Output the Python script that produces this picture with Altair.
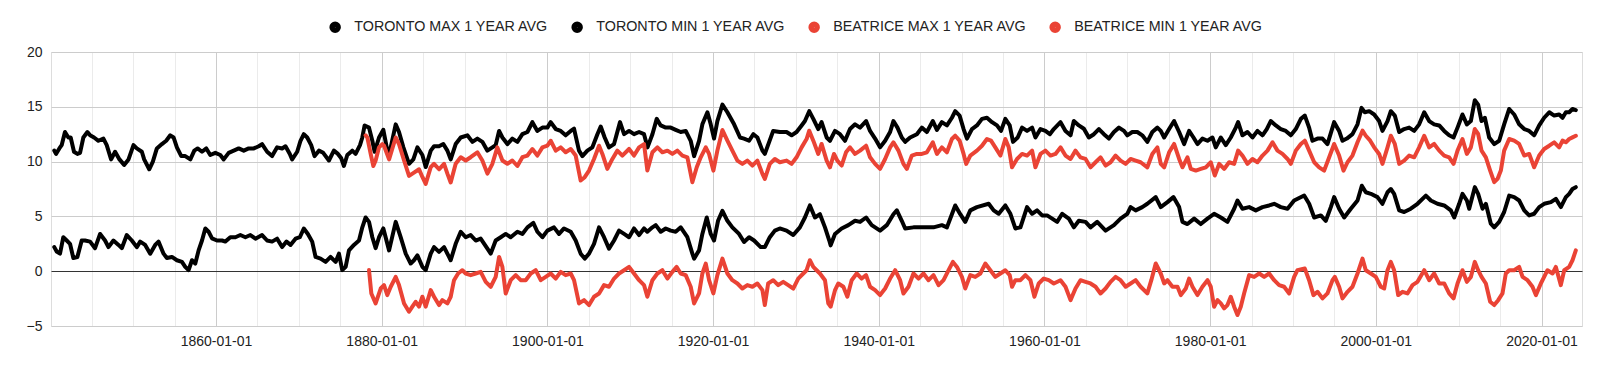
import altair as alt
import pandas as pd

SERIES = ["TORONTO MAX 1 YEAR AVG", "TORONTO MIN 1 YEAR AVG",
          "BEATRICE MAX 1 YEAR AVG", "BEATRICE MIN 1 YEAR AVG"]
COLORS = ["#000000", "#000000", "#ea4335", "#ea4335"]

# ---- Toronto max (decimal year, degC) ----
tmx_year = [1840.48, 1840.69, 1841.09, 1841.37, 1841.77, 1842.18, 1842.46, 1842.86, 1843.27, 1843.59,
            1843.99, 1844.48, 1844.8, 1845.28, 1845.81, 1846.41, 1846.81, 1847.34, 1847.82, 1848.35,
            1848.91, 1849.44, 1850.04, 1850.44, 1851.05, 1851.33, 1851.94, 1852.38, 1852.86, 1853.47,
            1853.99, 1854.48, 1854.88, 1855.28, 1855.81, 1856.29, 1856.9, 1857.38, 1857.78, 1858.31,
            1858.83, 1859.31, 1859.92, 1860.52, 1860.93, 1861.53, 1862.14, 1862.74, 1863.35, 1863.95,
            1864.56, 1865.16, 1865.56, 1866.17, 1866.77, 1867.38, 1867.98, 1868.39, 1868.91, 1869.19,
            1869.8, 1870.2, 1870.6, 1871.01, 1871.49, 1871.9, 1872.42, 1872.94, 1873.63, 1874.23,
            1874.72, 1875.12, 1875.44, 1875.85, 1876.45, 1876.85, 1877.38, 1877.66, 1877.94, 1878.47,
            1878.87, 1879.15, 1879.68, 1880.2, 1880.76, 1881.09, 1881.69, 1882.09, 1882.62, 1883.3,
            1883.82, 1884.31, 1884.91, 1885.31, 1885.92, 1886.32, 1886.92, 1887.44, 1887.93, 1888.33,
            1888.93, 1889.54, 1890.34, 1890.95, 1891.55, 1892.15, 1892.76, 1893.36, 1893.76, 1894.17,
            1894.57, 1895.17, 1895.77, 1896.38, 1896.98, 1897.59, 1898.19, 1898.79, 1899.4, 1900.0,
            1900.4, 1901.01, 1901.61, 1902.21, 1902.82, 1903.22, 1903.82, 1904.23, 1904.83, 1905.43,
            1906.04, 1906.44, 1906.92, 1907.44, 1908.05, 1908.77, 1909.26, 1909.86, 1910.46, 1911.07,
            1911.67, 1912.09, 1912.68, 1913.2, 1913.68, 1914.29, 1914.89, 1915.49, 1916.1, 1916.7,
            1917.3, 1917.71, 1918.31, 1918.71, 1919.32, 1919.72, 1920.12, 1920.52, 1921.13, 1921.73,
            1922.54, 1923.26, 1923.74, 1924.35, 1924.87, 1925.35, 1925.96, 1926.25, 1927.26, 1928.06,
            1928.87, 1929.48, 1930.08, 1930.69, 1931.09, 1931.61, 1932.1, 1932.7, 1933.1, 1933.71,
            1934.11, 1934.72, 1935.32, 1935.93, 1936.53, 1937.14, 1937.74, 1938.47, 1938.95, 1939.56,
            1940.16, 1940.77, 1941.37, 1941.77, 1942.26, 1942.78, 1943.19, 1943.79, 1944.6, 1945.2,
            1945.81, 1946.53, 1947.02, 1947.62, 1948.23, 1948.83, 1949.23, 1949.76, 1950.24, 1950.65,
            1951.25, 1951.85, 1952.46, 1953.06, 1953.67, 1954.27, 1954.76, 1955.28, 1955.81, 1956.21,
            1956.77, 1957.3, 1957.9, 1958.51, 1958.91, 1959.52, 1960.12, 1960.65, 1961.13, 1961.94,
            1962.54, 1963.15, 1963.55, 1964.15, 1964.76, 1965.36, 1965.97, 1966.57, 1967.18, 1967.78,
            1968.39, 1968.99, 1969.6, 1970.0, 1970.6, 1971.21, 1971.81, 1972.42, 1973.02, 1973.63,
            1974.04, 1974.45, 1975.05, 1975.65, 1976.26, 1976.86, 1977.46, 1977.99, 1978.47, 1979.07,
            1979.68, 1980.28, 1980.68, 1981.29, 1981.89, 1982.49, 1983.1, 1983.38, 1983.9, 1984.51,
            1985.11, 1985.71, 1986.32, 1986.84, 1987.32, 1987.93, 1988.53, 1989.13, 1989.74, 1990.34,
            1990.95, 1991.43, 1991.95, 1992.35, 1992.96, 1993.56, 1994.16, 1994.65, 1994.97, 1995.57,
            1995.98, 1996.5, 1997.18, 1997.79, 1998.27, 1998.67, 1999.2, 1999.8, 2000.4, 2000.8,
            2001.41, 2001.81, 2002.29, 2002.82, 2003.42, 2004.02, 2004.63, 2005.23, 2005.84, 2006.44,
            2007.04, 2007.65, 2008.25, 2008.85, 2009.38, 2009.86, 2010.46, 2010.99, 2011.47, 2011.95,
            2012.35, 2012.76, 2013.16, 2013.68, 2014.29, 2014.89, 2015.49, 2016.1, 2016.7, 2017.3,
            2017.91, 2018.51, 2019.11, 2019.72, 2020.32, 2020.93, 2021.53, 2022.13, 2022.54, 2022.94,
            2023.34, 2023.74, 2024.14]
tmx_val = [11.0, 10.7, 11.2, 11.5, 12.7, 12.2, 12.2, 10.9, 10.7, 10.8,
           12.2, 12.7, 12.4, 12.2, 11.9, 12.1, 11.5, 10.2, 10.9, 10.2,
           9.7, 10.2, 11.5, 11.2, 10.9, 10.2, 9.3, 10.0, 11.2, 11.6,
           11.9, 12.4, 12.2, 11.3, 10.5, 10.5, 10.2, 11.0, 11.2, 10.9,
           11.2, 10.6, 10.8, 10.6, 10.2, 10.8, 11.0, 11.2, 11.0, 11.2,
           11.2, 11.4, 11.6, 10.9, 10.5, 11.3, 11.2, 11.4, 10.7, 10.2,
           10.9, 11.9, 12.5, 12.2, 11.5, 10.5, 11.0, 10.8, 10.1, 11.0,
           10.7, 10.3, 9.6, 10.6, 11.0, 10.7, 11.5, 12.2, 13.3, 13.1,
           11.9, 10.9, 12.2, 12.9, 10.7, 11.3, 13.4, 12.7, 11.3, 9.8,
           10.2, 11.3, 10.6, 9.5, 11.0, 11.4, 11.4, 11.6, 11.0, 10.2,
           11.6, 12.2, 12.4, 11.8, 12.1, 11.8, 11.0, 11.3, 11.5, 12.8,
           12.2, 11.6, 12.1, 11.8, 12.5, 12.7, 13.6, 12.8, 13.1, 13.1,
           13.6, 12.97, 12.8, 12.4, 12.8, 13.0, 11.0, 10.5, 11.0, 11.3,
           12.5, 13.2, 12.2, 11.3, 11.6, 13.6, 12.5, 12.8, 12.5, 12.7,
           12.5, 11.3, 12.5, 13.9, 13.3, 13.1, 13.1, 12.9, 12.7, 12.8,
           11.9, 10.5, 11.9, 13.4, 14.5, 13.4, 12.1, 13.7, 15.2, 14.5,
           13.4, 12.2, 12.1, 11.9, 12.5, 12.2, 11.0, 10.7, 12.8, 12.7,
           12.7, 12.4, 12.7, 13.3, 13.7, 14.6, 13.9, 12.97, 13.6, 12.2,
           11.9, 12.8, 12.5, 11.9, 12.97, 13.4, 13.1, 13.7, 12.8, 12.1,
           11.3, 11.9, 12.7, 13.7, 13.1, 12.2, 11.8, 12.2, 12.5, 13.1,
           12.7, 13.7, 12.9, 13.6, 13.3, 14.0, 14.6, 14.2, 12.97, 12.1,
           12.97, 13.3, 13.9, 14.0, 13.6, 13.3, 12.8, 13.9, 13.3, 11.8,
           12.2, 13.1, 12.8, 13.1, 12.2, 12.97, 12.8, 12.5, 12.97, 13.6,
           12.8, 12.4, 13.7, 13.3, 13.0, 12.2, 12.5, 12.97, 12.5, 12.1,
           12.7, 13.1, 12.8, 12.4, 12.7, 12.7, 12.4, 11.8, 12.7, 13.1,
           12.8, 12.2, 12.97, 13.7, 12.7, 11.6, 12.8, 12.2, 11.6, 12.1,
           11.9, 12.2, 11.3, 12.2, 11.5, 12.2, 13.1, 13.6, 12.4, 12.7,
           12.2, 12.8, 12.4, 12.97, 13.7, 13.3, 12.97, 12.8, 12.4, 12.97,
           13.9, 14.2, 13.1, 11.9, 12.1, 12.1, 11.6, 12.8, 13.6, 12.8,
           11.9, 12.1, 12.5, 13.4, 14.9, 14.5, 14.6, 14.3, 13.7, 12.8,
           13.7, 14.6, 14.2, 12.7, 12.97, 13.1, 12.8, 13.4, 14.5, 13.7,
           13.4, 13.3, 12.8, 12.4, 12.2, 13.1, 14.3, 13.4, 13.7, 15.6,
           15.2, 13.7, 14.0, 12.2, 11.6, 11.9, 13.4, 14.8, 14.3, 13.4,
           12.97, 12.8, 12.4, 13.3, 14.0, 14.5, 14.2, 14.3, 14.0, 14.5,
           14.5, 14.8, 14.7]

# ---- Toronto min ----
tmn_year = [1840.48, 1840.77, 1841.17, 1841.57, 1841.98, 1842.38, 1842.78, 1843.27, 1843.79, 1844.19,
            1844.8, 1845.4, 1846.01, 1846.61, 1847.02, 1847.62, 1848.23, 1848.63, 1849.23, 1849.84,
            1850.44, 1850.85, 1851.45, 1852.06, 1852.66, 1853.06, 1853.67, 1854.07, 1854.68, 1855.28,
            1855.89, 1856.29, 1856.69, 1857.1, 1857.5, 1857.9, 1858.31, 1858.71, 1859.11, 1859.52,
            1860.12, 1860.73, 1861.13, 1861.73, 1862.34, 1862.94, 1863.55, 1864.15, 1864.76, 1865.56,
            1866.17, 1866.77, 1867.38, 1867.98, 1868.51, 1868.99, 1869.6, 1870.12, 1870.6, 1871.09,
            1871.61, 1872.02, 1872.62, 1873.23, 1873.83, 1874.44, 1874.84, 1875.24, 1875.65, 1876.05,
            1876.65, 1877.26, 1877.66, 1878.06, 1878.47, 1878.87, 1879.27, 1879.68, 1880.2, 1880.89,
            1881.69, 1882.29, 1882.9, 1883.5, 1883.9, 1884.31, 1884.91, 1885.31, 1885.92, 1886.32,
            1886.92, 1887.53, 1888.13, 1888.33, 1888.93, 1889.54, 1890.14, 1890.74, 1891.35, 1891.95,
            1892.76, 1893.16, 1893.76, 1894.37, 1894.97, 1895.57, 1896.38, 1896.98, 1897.59, 1898.31,
            1898.79, 1899.4, 1900.0, 1900.8, 1901.41, 1902.01, 1902.82, 1903.42, 1904.02, 1904.51,
            1905.03, 1905.63, 1906.24, 1906.84, 1907.44, 1908.05, 1908.65, 1909.26, 1909.86, 1910.46,
            1911.07, 1911.67, 1912.07, 1912.68, 1913.08, 1913.68, 1914.29, 1914.89, 1915.49, 1916.1,
            1916.9, 1917.5, 1917.71, 1918.31, 1918.71, 1919.24, 1919.72, 1920.12, 1920.6, 1921.13,
            1921.73, 1922.33, 1923.14, 1923.74, 1924.35, 1924.95, 1925.75, 1926.25, 1926.85, 1927.46,
            1928.06, 1928.87, 1929.68, 1930.48, 1931.09, 1931.69, 1932.3, 1932.9, 1933.51, 1934.03,
            1934.19, 1934.72, 1935.52, 1936.33, 1937.14, 1937.74, 1938.47, 1939.15, 1940.16, 1940.97,
            1941.77, 1942.18, 1942.78, 1943.19, 1944.19, 1945.0, 1945.81, 1946.61, 1947.62, 1948.23,
            1948.83, 1949.23, 1949.84, 1950.44, 1951.05, 1951.85, 1953.27, 1953.87, 1954.48, 1955.28,
            1955.89, 1956.49, 1957.1, 1957.9, 1958.51, 1959.11, 1959.72, 1960.32, 1960.93, 1961.53,
            1962.14, 1962.94, 1963.55, 1964.15, 1964.96, 1965.56, 1966.37, 1967.38, 1968.39, 1969.19,
            1970.0, 1970.4, 1971.01, 1971.81, 1972.42, 1973.43, 1974.04, 1974.85, 1975.57, 1976.26,
            1976.66, 1977.26, 1978.07, 1978.87, 1979.68, 1980.48, 1981.29, 1982.09, 1982.9, 1983.3,
            1983.9, 1984.71, 1985.51, 1986.32, 1987.12, 1987.73, 1988.53, 1989.34, 1990.14, 1991.35,
            1991.95, 1992.56, 1993.36, 1993.96, 1994.57, 1994.97, 1995.57, 1996.18, 1996.98, 1997.79,
            1998.31, 1998.79, 1999.4, 2000.2, 2000.8, 2001.41, 2001.81, 2002.21, 2002.82, 2003.42,
            2004.22, 2005.03, 2006.04, 2006.64, 2007.44, 2008.25, 2009.05, 2009.46, 2010.06, 2010.46,
            2010.99, 2011.27, 2011.95, 2012.35, 2012.88, 2013.28, 2013.88, 2014.29, 2014.89, 2015.49,
            2016.1, 2016.7, 2017.3, 2017.91, 2018.51, 2019.11, 2019.72, 2020.32, 2021.13, 2021.73,
            2022.33, 2022.94, 2023.34, 2023.74, 2024.14]
tmn_val = [2.2, 1.8, 1.6, 3.1, 2.8, 2.5, 1.2, 1.3, 2.8, 2.8,
           2.7, 2.1, 3.4, 2.8, 2.2, 2.8, 2.4, 2.1, 3.3, 2.8,
           2.2, 2.7, 2.4, 1.6, 2.4, 2.7, 1.6, 1.2, 1.3, 1.0,
           0.85, 0.4, 0.1, 1.0, 0.7, 1.9, 2.8, 3.9, 3.6, 3.0,
           2.8, 2.8, 2.7, 3.1, 3.1, 3.3, 3.1, 3.3, 2.97, 3.3,
           2.8, 2.7, 2.97, 2.2, 2.7, 2.4, 2.97, 3.1, 3.9, 3.4,
           2.7, 1.3, 1.15, 0.85, 1.3, 0.85, 1.6, 0.1, 0.4, 1.9,
           2.4, 2.8, 4.0, 4.9, 4.5, 3.1, 2.1, 3.1, 3.9, 1.9,
           4.5, 3.1, 1.6, 0.7, 1.0, 1.45, 0.4, 0.1, 1.6, 2.2,
           1.76, 2.2, 1.3, 1.0, 2.5, 3.6, 3.1, 3.3, 2.8, 2.97,
           2.06, 1.6, 2.8, 3.1, 3.4, 3.1, 3.6, 3.4, 4.0, 4.4,
           3.6, 3.1, 3.7, 4.0, 3.4, 3.9, 3.6, 2.8, 1.6, 1.15,
           1.6, 2.5, 4.0, 3.1, 2.06, 2.8, 3.7, 3.4, 3.1, 3.9,
           3.3, 3.9, 3.6, 4.0, 4.2, 3.6, 3.9, 3.7, 3.6, 4.0,
           3.1, 1.6, 1.15, 1.9, 3.4, 4.9, 3.4, 2.8, 4.6, 5.5,
           4.6, 4.0, 3.4, 2.67, 3.1, 2.8, 2.2, 2.2, 3.1, 3.7,
           3.9, 3.7, 3.3, 4.0, 4.9, 6.0, 4.9, 5.2, 4.0, 2.8,
           2.36, 3.4, 3.9, 4.2, 4.6, 4.5, 4.9, 4.2, 3.7, 4.2,
           5.2, 5.55, 4.6, 3.9, 4.0, 4.0, 4.0, 4.0, 4.2, 4.0,
           5.2, 6.0, 5.2, 4.5, 5.55, 5.85, 6.15, 5.55, 5.24, 6.0,
           5.24, 3.9, 4.0, 5.85, 5.24, 5.55, 5.09, 5.09, 4.8, 4.5,
           5.24, 4.8, 4.0, 4.6, 4.5, 4.0, 4.5, 3.7, 4.2, 4.8,
           5.24, 5.85, 5.55, 5.85, 6.15, 6.76, 5.85, 6.3, 6.76, 5.85,
           4.5, 4.3, 4.8, 4.3, 4.8, 5.24, 4.9, 4.5, 5.7, 6.45,
           5.7, 5.85, 5.55, 5.85, 6.0, 6.15, 5.85, 5.7, 6.45, 6.9,
           6.15, 4.9, 5.09, 4.6, 5.85, 6.76, 5.7, 4.9, 5.7, 6.45,
           7.8, 7.2, 7.06, 6.76, 6.15, 7.2, 7.5, 7.06, 5.55, 5.4,
           5.7, 6.15, 6.9, 6.45, 6.15, 6.0, 5.55, 4.9, 6.15, 7.06,
           6.45, 5.7, 7.67, 7.06, 5.7, 6.15, 4.33, 4.0, 4.5, 5.4,
           6.9, 6.76, 6.45, 5.55, 5.09, 5.24, 5.85, 6.15, 6.3, 6.6,
           5.85, 6.76, 7.06, 7.5, 7.67]

# ---- Beatrice max ----
bmx_year = [1878.06, 1878.27, 1878.67, 1878.99, 1879.27, 1879.68, 1880.08, 1880.28, 1880.89, 1881.69,
            1882.09, 1882.7, 1883.3, 1883.9, 1884.51, 1884.91, 1885.31, 1885.92, 1886.32, 1886.92,
            1887.53, 1887.93, 1888.33, 1888.93, 1889.54, 1890.14, 1890.74, 1891.55, 1892.15, 1892.76,
            1893.36, 1893.96, 1894.57, 1895.17, 1895.77, 1896.38, 1896.98, 1897.59, 1898.19, 1898.79,
            1899.4, 1900.0, 1900.4, 1901.01, 1901.61, 1902.21, 1902.82, 1903.42, 1904.02, 1904.51,
            1905.03, 1905.63, 1906.24, 1906.64, 1907.24, 1907.85, 1908.45, 1909.05, 1909.86, 1910.46,
            1911.07, 1911.67, 1912.07, 1912.68, 1913.28, 1913.88, 1914.49, 1915.09, 1915.69, 1916.3,
            1916.9, 1917.5, 1918.03, 1918.51, 1919.12, 1919.52, 1920.04, 1920.52, 1921.13, 1921.73,
            1922.33, 1922.94, 1923.54, 1924.14, 1924.75, 1925.35, 1925.96, 1926.25, 1926.85, 1927.46,
            1928.06, 1928.87, 1929.48, 1930.08, 1930.69, 1931.29, 1931.61, 1932.1, 1932.7, 1933.1,
            1933.71, 1934.11, 1934.6, 1935.0, 1935.52, 1936.05, 1936.53, 1937.14, 1937.74, 1938.47,
            1938.95, 1939.56, 1940.16, 1940.77, 1941.37, 1941.77, 1942.38, 1942.98, 1943.39, 1943.99,
            1944.6, 1945.2, 1945.81, 1946.53, 1947.02, 1947.62, 1948.23, 1948.83, 1949.23, 1949.76,
            1950.24, 1950.56, 1951.05, 1951.85, 1952.46, 1953.06, 1953.55, 1954.07, 1954.68, 1955.28,
            1955.69, 1956.09, 1956.69, 1957.3, 1957.9, 1958.51, 1958.91, 1959.52, 1960.12, 1960.73,
            1961.33, 1961.94, 1962.54, 1963.15, 1963.75, 1964.35, 1964.96, 1965.56, 1966.17, 1966.77,
            1967.38, 1967.98, 1968.59, 1969.19, 1969.8, 1970.4, 1971.01, 1971.61, 1972.42, 1973.02,
            1973.63, 1974.04, 1974.45, 1975.05, 1975.65, 1976.26, 1976.66, 1977.26, 1977.67, 1978.27,
            1978.87, 1979.48, 1980.08, 1980.56, 1981.09, 1981.69, 1982.29, 1982.9, 1983.38, 1983.9,
            1984.51, 1985.11, 1985.71, 1986.32, 1986.92, 1987.53, 1988.13, 1988.73, 1989.34, 1989.74,
            1990.34, 1990.95, 1991.43, 1991.95, 1992.56, 1993.16, 1993.76, 1994.37, 1994.97, 1995.57,
            1996.1, 1996.58, 1997.18, 1997.79, 1998.39, 1998.79, 1999.32, 1999.8, 2000.4, 2000.8,
            2001.41, 2001.81, 2002.29, 2002.82, 2003.42, 2004.02, 2004.63, 2005.23, 2005.84, 2006.44,
            2007.04, 2007.65, 2008.25, 2008.85, 2009.38, 2009.86, 2010.46, 2010.99, 2011.47, 2011.95,
            2012.35, 2012.76, 2013.28, 2013.8, 2014.29, 2014.69, 2015.09, 2015.49, 2016.1, 2016.7,
            2017.3, 2017.91, 2018.51, 2019.11, 2019.72, 2020.32, 2020.93, 2021.53, 2022.13, 2022.54,
            2022.94, 2023.34, 2023.74, 2024.14]
bmx_val = [12.4, 12.2, 10.7, 9.6, 10.1, 11.3, 11.6, 11.45, 10.2, 12.2,
           11.6, 10.1, 8.7, 9.0, 9.3, 8.6, 7.97, 9.5, 9.8, 9.3,
           9.8, 8.9, 8.1, 9.8, 10.4, 10.1, 10.4, 10.85, 10.1, 8.9,
           9.8, 11.3, 10.1, 9.8, 10.1, 9.6, 10.4, 10.55, 11.15, 10.55,
           11.3, 11.45, 11.9, 11.0, 11.3, 10.85, 11.15, 10.55, 8.27, 8.58,
           9.18, 10.24, 11.45, 10.7, 9.33, 10.24, 11.0, 10.55, 11.15, 10.55,
           11.3, 11.6, 9.18, 10.85, 11.3, 10.85, 11.0, 10.7, 11.0, 10.55,
           10.39, 8.12, 9.48, 10.39, 11.3, 10.7, 9.18, 11.0, 12.88, 11.91,
           11.0, 10.09, 9.79, 10.09, 9.64, 10.09, 8.88, 8.42, 9.79, 10.24,
           9.94, 10.09, 9.79, 10.39, 11.3, 12.06, 12.82, 11.91, 10.7, 11.61,
           10.09, 9.48, 10.7, 10.09, 9.64, 10.85, 11.3, 10.7, 11.0, 11.45,
           10.39, 9.79, 9.33, 10.24, 11.3, 11.76, 11.0, 9.79, 9.33, 10.55,
           10.7, 10.7, 10.85, 11.76, 10.7, 11.3, 10.85, 12.06, 12.36, 11.91,
           10.7, 9.79, 10.55, 11.0, 11.45, 12.06, 11.91, 11.3, 10.55, 12.06,
           11.3, 9.48, 10.24, 10.7, 10.55, 11.0, 9.48, 10.7, 11.0, 10.55,
           10.7, 11.3, 10.55, 10.24, 11.0, 10.39, 10.24, 9.48, 9.94, 10.39,
           9.64, 9.94, 10.55, 10.09, 9.79, 10.24, 10.09, 9.94, 9.48, 10.7,
           11.3, 9.79, 9.48, 10.85, 11.61, 10.24, 9.48, 10.39, 9.33, 9.18,
           9.33, 9.48, 9.94, 8.73, 9.79, 9.33, 9.94, 9.79, 11.0, 10.55,
           9.79, 10.24, 9.94, 10.55, 11.0, 11.76, 11.0, 10.7, 10.24, 9.79,
           11.0, 11.61, 11.91, 11.0, 9.94, 9.48, 9.18, 10.39, 11.61, 10.55,
           9.18, 9.94, 10.55, 11.76, 12.82, 12.36, 11.91, 11.3, 10.7, 9.79,
           11.3, 12.36, 11.61, 9.79, 10.09, 10.55, 10.39, 11.3, 12.36, 11.3,
           11.61, 11.0, 10.55, 10.39, 9.79, 11.0, 12.06, 10.7, 11.3, 12.97,
           12.52, 11.0, 10.39, 9.18, 8.12, 8.42, 9.18, 11.0, 12.06, 11.91,
           11.61, 10.55, 10.7, 9.48, 10.55, 11.15, 11.45, 11.76, 11.3, 11.91,
           11.76, 12.06, 12.21, 12.36]

# ---- Beatrice min ----
bmn_year = [1878.47, 1878.75, 1879.27, 1879.88, 1880.28, 1880.68, 1881.09, 1881.69, 1882.09, 1882.7,
            1883.3, 1883.7, 1884.1, 1884.51, 1884.91, 1885.31, 1885.92, 1886.32, 1886.92, 1887.32,
            1887.93, 1888.33, 1888.73, 1889.22, 1889.74, 1890.14, 1890.74, 1891.35, 1891.95, 1892.56,
            1893.16, 1893.76, 1894.17, 1894.57, 1894.97, 1895.57, 1896.18, 1896.78, 1897.38, 1897.99,
            1898.59, 1899.2, 1899.8, 1900.4, 1901.01, 1901.61, 1902.21, 1902.82, 1903.22, 1903.82,
            1904.43, 1905.03, 1905.63, 1906.24, 1906.84, 1907.44, 1908.05, 1908.65, 1909.26, 1909.86,
            1910.46, 1911.07, 1911.67, 1912.07, 1912.68, 1913.28, 1913.88, 1914.49, 1915.09, 1915.61,
            1916.1, 1916.7, 1917.3, 1917.71, 1918.31, 1918.71, 1919.12, 1919.52, 1920.04, 1920.52,
            1921.13, 1921.73, 1922.33, 1922.94, 1923.54, 1924.14, 1924.75, 1925.35, 1925.96, 1926.25,
            1926.65, 1927.26, 1927.86, 1928.47, 1929.07, 1929.68, 1930.28, 1930.89, 1931.29, 1931.69,
            1932.1, 1932.5, 1932.9, 1933.51, 1933.91, 1934.19, 1934.72, 1935.12, 1935.73, 1936.21,
            1936.73, 1937.34, 1937.94, 1938.47, 1938.95, 1939.56, 1940.16, 1940.77, 1941.37, 1941.98,
            1942.58, 1942.98, 1943.59, 1944.19, 1944.8, 1945.4, 1946.01, 1946.61, 1947.22, 1947.82,
            1948.43, 1948.95, 1949.44, 1950.04, 1950.44, 1951.05, 1951.65, 1952.26, 1952.86, 1953.47,
            1954.07, 1954.68, 1955.28, 1955.81, 1956.09, 1956.49, 1957.1, 1957.7, 1958.31, 1958.79,
            1959.31, 1959.92, 1960.52, 1961.13, 1961.94, 1962.54, 1963.15, 1963.75, 1964.35, 1964.96,
            1965.56, 1966.17, 1966.77, 1967.38, 1967.98, 1968.59, 1969.19, 1969.8, 1970.4, 1971.01,
            1971.61, 1972.42, 1972.9, 1973.43, 1974.04, 1974.45, 1974.85, 1975.45, 1976.06, 1976.46,
            1977.06, 1977.46, 1977.87, 1978.47, 1979.07, 1979.68, 1980.08, 1980.48, 1980.89, 1981.29,
            1981.69, 1982.09, 1982.49, 1982.9, 1983.3, 1983.7, 1984.1, 1984.71, 1985.31, 1985.92,
            1986.52, 1987.12, 1987.73, 1988.33, 1988.93, 1989.54, 1990.14, 1990.54, 1991.43, 1991.95,
            1992.47, 1992.96, 1993.56, 1994.16, 1994.77, 1995.05, 1995.57, 1995.98, 1996.58, 1997.18,
            1997.79, 1998.39, 1998.79, 1999.4, 2000.0, 2000.6, 2001.01, 2001.41, 2001.81, 2002.21,
            2002.7, 2003.22, 2003.82, 2004.43, 2005.03, 2005.84, 2006.44, 2007.04, 2007.65, 2008.25,
            2008.85, 2009.38, 2009.86, 2010.46, 2010.99, 2011.47, 2011.95, 2012.35, 2012.76, 2013.28,
            2013.8, 2014.29, 2014.77, 2015.29, 2015.69, 2016.1, 2016.7, 2017.3, 2017.71, 2018.31,
            2018.91, 2019.32, 2019.92, 2020.32, 2020.72, 2021.33, 2021.73, 2022.33, 2022.74, 2023.34,
            2023.74, 2024.14]
bmn_val = [0.1, -2.03, -2.94, -1.58, -1.27, -2.18, -1.42, -0.52, -1.27, -2.94,
           -3.7, -3.24, -2.79, -3.24, -2.33, -3.24, -1.73, -2.33, -3.09, -2.64,
           -2.94, -2.33, -0.82, -0.21, 0.09, -0.21, -0.36, -0.21, -0.06, -0.97,
           -1.42, -0.52, 1.3, 0.39, -2.03, -0.82, -0.36, -0.82, -0.82, -0.21,
           0.09, -0.82, -0.52, -0.21, -0.67, -0.06, -0.36, -0.21, -0.82, -2.94,
           -2.64, -3.09, -2.33, -2.03, -1.27, -1.42, -0.67, -0.21, 0.09, 0.39,
           -0.21, -0.82, -1.27, -2.33, -0.82, -0.21, 0.09, -0.67, -0.06, 0.39,
           -0.21, -0.36, -1.42, -2.94, -2.03, -0.21, 0.7, -0.82, -2.03, -0.36,
           1.15, -0.21, -0.82, -1.12, -1.58, -1.27, -1.42, -1.12, -1.73, -3.09,
           -1.12, -0.82, -1.27, -0.97, -1.27, -1.58, -0.67, -0.21, 0.09, 1.0,
           0.39, 0.09, -0.21, -0.82, -2.94, -3.24, -1.73, -1.12, -1.42, -2.33,
           -0.82, -0.21, -0.67, -0.36, -1.42, -1.73, -2.18, -1.58, -0.67, 0.09,
           -0.82, -2.03, -1.42, -0.21, -0.67, -0.21, -0.82, -0.36, -1.27, -0.82,
           0.09, 0.85, 0.39, -0.52, -1.58, -0.36, -0.52, -0.21, 0.7, 0.09,
           -0.52, -0.21, 0.09, -0.36, -1.42, -0.82, -0.82, -0.36, -0.82, -2.33,
           -1.12, -0.67, -0.82, -1.12, -0.82, -1.42, -2.64, -1.58, -0.82, -0.97,
           -1.12, -1.42, -2.03, -1.58, -0.97, -0.52, -0.82, -1.42, -1.12, -0.82,
           -1.42, -2.03, -0.82, 0.7, -0.21, -1.12, -0.82, -1.42, -1.42, -2.18,
           -1.58, -0.67, -1.42, -2.18, -1.42, -0.82, -1.42, -3.24, -2.64, -2.94,
           -3.39, -3.09, -2.33, -3.24, -4.0, -3.24, -2.03, -0.36, -0.52, -0.21,
           -0.52, -0.21, -0.82, -1.27, -1.42, -2.03, -0.52, 0.09, 0.24, -0.82,
           -2.18, -1.88, -2.48, -2.03, -0.82, -0.52, -1.42, -2.48, -1.88, -1.42,
           -0.21, 1.15, 0.09, -0.21, -0.52, -1.42, -1.58, 0.09, 0.85, 0.09,
           -2.18, -1.88, -2.03, -1.27, -0.97, 0.09, -0.82, -0.21, -1.12, -1.12,
           -2.03, -2.48, -1.12, 0.09, -0.97, -0.52, 0.85, 0.09, -0.52, -1.12,
           -2.79, -3.09, -2.64, -2.03, -0.21, 0.09, 0.09, 0.39, -0.52, -0.82,
           -1.42, -2.18, -1.12, -0.52, 0.09, -0.21, 0.39, -1.27, 0.09, 0.39,
           1.0, 1.9]


def to_timestamp(decimal_year):
    yr = int(decimal_year)
    start = pd.Timestamp(year=yr, month=1, day=1)
    end = pd.Timestamp(year=yr + 1, month=1, day=1)
    return (start + (end - start) * (decimal_year - yr)).strftime("%Y-%m-%dT%H:%M:%S")


rows = []
for name, years, vals in zip(SERIES,
                             [tmx_year, tmn_year, bmx_year, bmn_year],
                             [tmx_val, tmn_val, bmx_val, bmn_val]):
    for y, v in zip(years, vals):
        rows.append({"series": name, "date": to_timestamp(y), "value": v})
df = pd.DataFrame(rows)

FONT = "Liberation Sans"
grid_years = list(range(1845, 2025, 5))

x_axis = alt.Axis(
    values=[alt.DateTime(year=y, month=1, date=1) for y in grid_years],
    labelExpr="year(datum.value) % 20 == 0 ? timeFormat(datum.value, '%Y-%m-%d') : ''",
    gridColor={"condition": {"test": "year(datum.value) % 20 == 0", "value": "#cccccc"},
               "value": "#ebebeb"},
    grid=True, ticks=False, tickSize=0, domain=False, title=None,
    labelFontSize=14, labelFont=FONT, labelColor="#222222", labelPadding=8,
    labelFlush=False, labelOverlap=False,
)
y_axis = alt.Axis(
    values=[-5, 0, 5, 10, 15, 20],
    gridColor={"condition": {"test": "datum.value === 0", "value": "#333333"},
               "value": "#cccccc"},
    grid=True, ticks=False, tickSize=0, domain=False, title=None,
    labelFontSize=14, labelFont=FONT, labelColor="#222222", labelPadding=9,
)

legend = alt.Legend(
    title=None, orient="none", direction="horizontal",
    legendX=277, legendY=-32,
    symbolType="circle", symbolSize=30, symbolStrokeWidth=6,
    labelFontSize=14.3, labelFont=FONT, labelColor="#222222", labelLimit=0,
    labelOffset=12, columnPadding=13, padding=0,
)

chart = alt.Chart(df).mark_line(strokeWidth=4, strokeJoin="round", strokeCap="round").encode(
    x=alt.X("date:T",
            scale=alt.Scale(domain=[alt.DateTime(year=1840, month=2, date=1),
                                    alt.DateTime(year=2024, month=11, date=20)]),
            axis=x_axis),
    y=alt.Y("value:Q", scale=alt.Scale(domain=[-5, 20], nice=False), axis=y_axis),
    color=alt.Color("series:N", scale=alt.Scale(domain=SERIES, range=COLORS),
                    sort=SERIES, legend=legend),
).properties(
    width=1531, height=274,
    autosize=alt.AutoSizeParams(type="none"),
    padding={"left": 43, "top": 44, "right": 10, "bottom": 30},
).configure_view(strokeWidth=0).configure(background="white")

chart.save("out.html", embed_options={"renderer": "svg", "actions": False})
